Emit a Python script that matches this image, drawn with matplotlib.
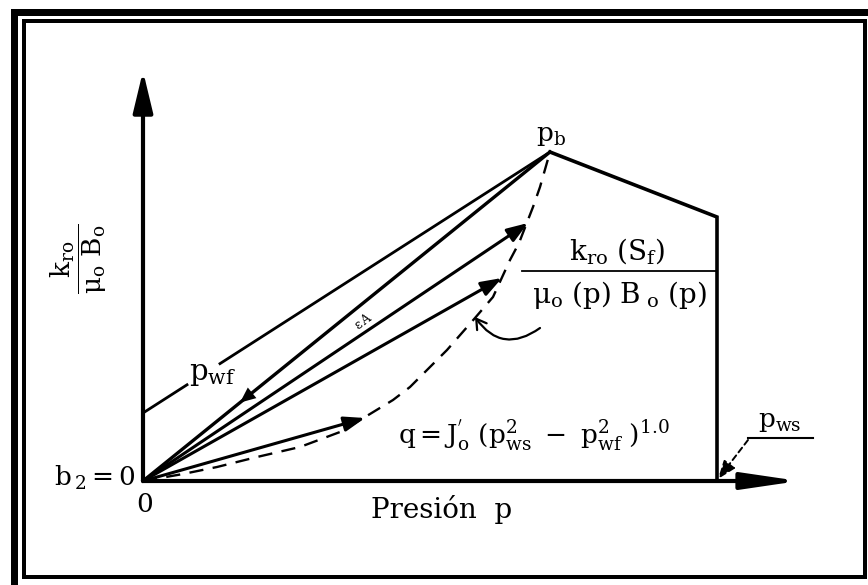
import numpy as np
import matplotlib
matplotlib.use('Agg')
import matplotlib.pyplot as plt
from matplotlib.patches import Rectangle

plt.rcParams['font.family'] = ['DejaVu Serif']
plt.rcParams['mathtext.fontset'] = 'dejavuserif'
plt.rcParams['mathtext.default'] = 'rm'

# ---- schematic data (origin at the axes origin) ----
p_b, y_b = 407, 329            # bubble point peak
p_knee, y_knee = 574, 264      # end of the sloped segment right of p_b
p_ws = 574                     # static pressure
b_intercept = 68               # y-intercept of the upper straight line
p_axis_max, y_axis_max = 656, 410
ipr_p = [0, 40, 74, 114, 157, 197, 227, 250, 267, 304, 332, 350, 367, 376, 390, 397, 407]
ipr_y = [0, 7, 14, 24, 34, 49, 67, 81, 94, 131, 163, 184, 221, 238, 274, 294, 329]
ray_end_p = [407, 385, 359, 222]
ray_end_y = [329, 258, 203, 63]
pwf_mark_p = 97
b_gap = [44, 77]

W, H = 868, 585
fig = plt.figure(figsize=(W / 100, H / 100), dpi=100)
fig.patch.set_facecolor('white')

def fr(x, y):
    return x / W, 1 - y / H

# outer thick border
x0, y0 = fr(13.5, 587)
x1, y1 = fr(880, 11.5)
fig.add_artist(Rectangle((x0, y0), x1 - x0, y1 - y0, transform=fig.transFigure,
                         fill=False, lw=7 * 0.72, ec='black', clip_on=False))
# inner border
x0, y0 = fr(24, 577)
x1, y1 = fr(865, 20.5)
fig.add_artist(Rectangle((x0, y0), x1 - x0, y1 - y0, transform=fig.transFigure,
                         fill=False, lw=4 * 0.72, ec='black', clip_on=False))

ax = fig.add_axes([0, 0, 1, 1])
ax.set_xlim(-143, W - 143)
ax.set_ylim(481 - H, 481)
ax.axis('off')

k = 'black'
# axes with arrows
ax.annotate('', xy=(0, y_axis_max), xytext=(0, 0),
            arrowprops=dict(arrowstyle='-|>,head_length=1.25,head_width=0.3',
                            mutation_scale=20, lw=3, color=k, shrinkA=0, shrinkB=0))
ax.annotate('', xy=(p_axis_max, 0), xytext=(0, 0),
            arrowprops=dict(arrowstyle='-|>,head_length=1.7,head_width=0.25',
                            mutation_scale=20, lw=3, color=k, shrinkA=0, shrinkB=0))

# right polyline: p_b -> knee -> down to axis
ax.plot([p_b, p_knee, p_ws], [y_b, y_knee, 0], color=k, lw=2.6, solid_joinstyle='miter')

# IPR dashed curve
ax.plot(ipr_p, ipr_y, color=k, lw=1.7, ls=(0, (6, 4)))

# upper straight line from intercept to p_b with a gap for label
slope_b = (y_b - b_intercept) / p_b
ax.plot([0, b_gap[0]], [b_intercept, b_intercept + slope_b * b_gap[0]], color=k, lw=2)
ax.plot([b_gap[1], p_b], [b_intercept + slope_b * b_gap[1], y_b], color=k, lw=2)

# rays from origin
for i, (pe, ye) in enumerate(zip(ray_end_p, ray_end_y)):
    if i == 0:
        ax.plot([0, pe], [0, ye], color=k, lw=2.4)
    else:
        ax.annotate('', xy=(pe, ye), xytext=(0, 0),
                    arrowprops=dict(arrowstyle='-|>,head_length=0.9,head_width=0.32',
                                    mutation_scale=14, lw=2.2, color=k,
                                    shrinkA=0, shrinkB=0))
# marker on top ray (p_wf point)
sA = ray_end_y[0] / ray_end_p[0]
ax.annotate('', xy=(pwf_mark_p, sA * pwf_mark_p), xytext=(pwf_mark_p + 14, sA * (pwf_mark_p + 14)),
            arrowprops=dict(arrowstyle='-|>,head_length=0.8,head_width=0.35',
                            mutation_scale=14, lw=0, color=k, shrinkA=0, shrinkB=0))

# curly annotation arrow towards IPR curve
ax.annotate('', xy=(332, 164), xytext=(397, 153),
            arrowprops=dict(arrowstyle='->,head_length=0.5,head_width=0.3', mutation_scale=14,
                            lw=1.6, color=k, connectionstyle='arc3,rad=-0.5',
                            shrinkA=0, shrinkB=0))

# p_ws leader
ax.plot([605, 670], [43, 43], color=k, lw=1.5)
ax.annotate('', xy=(p_ws + 1, 2), xytext=(605, 41),
            arrowprops=dict(arrowstyle='-|>,head_length=0.8,head_width=0.3', mutation_scale=14,
                            lw=1.4, color=k, ls=(0, (3, 2)), shrinkA=0, shrinkB=0))

# fraction at right
ax.plot([379, 574], [210, 210], color=k, lw=1.3)

fs = 19
ax.text(408, 345, r'$p_b$', fontsize=fs, ha='center', va='center')
ax.text(474, 230, r'$k_{ro}\ (S_f)$', fontsize=fs + 1, ha='center', va='center')
ax.text(476, 186, r'$\mu_o\ (p)\ B_{\ o}\ (p)$', fontsize=fs + 1, ha='center', va='center')
ax.text(70, 107, r'$p_{wf}$', fontsize=fs + 2, ha='center', va='center')
ax.text(391, 45, r"$q = J_o^{'}\ (p_{ws}^{2}\ -\ p_{wf}^{2}\ )^{1.0}$", fontsize=fs,
        ha='center', va='center')
ax.text(637, 59, r'$p_{ws}$', fontsize=fs, ha='center', va='center')
ax.text(-7, 3, r'$b_{\,2} = 0$', fontsize=fs, ha='right', va='center')
ax.text(2, -23, '0', fontsize=fs, ha='center', va='center')
ax.text(299, -29, 'Presión  p', fontsize=fs + 1, ha='center', va='center')
ax.text(-64, 222, r'$\dfrac{k_{ro}}{\mu_o\ B_o}$', fontsize=fs, ha='center', va='center',
        rotation=90)
ax.text(220, 160, r'$\epsilon\,A$', fontsize=9, ha='center', va='center', rotation=36)

fig.savefig('out.png', dpi=100, facecolor='white')
